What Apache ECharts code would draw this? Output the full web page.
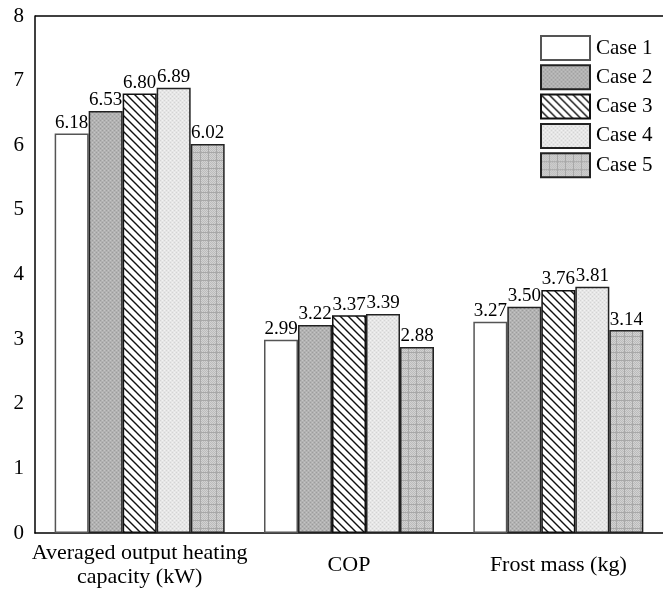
<!DOCTYPE html>
<html>
<head>
<meta charset="utf-8">
<script src="https://cdn.jsdelivr.net/npm/echarts@6/dist/echarts.min.js"></script>
<style>
html,body{margin:0;padding:0;background:#fff;}
#chart{width:663px;height:597px;}
</style>
</head>
<body>
<div id="chart"></div>
<script>
// Category names along the x axis
const categories = ['Averaged output heating\ncapacity (kW)', 'COP', 'Frost mass (kg)'];
// Case names shown in the legend
const caseNames = ['Case 1', 'Case 2', 'Case 3', 'Case 4', 'Case 5'];
// Values per case, one entry per category
const case1 = [6.18, 2.99, 3.27];
const case2 = [6.53, 3.22, 3.50];
const case3 = [6.80, 3.37, 3.76];
const case4 = [6.89, 3.39, 3.81];
const case5 = [6.02, 2.88, 3.14];
const yTicks = [0, 1, 2, 3, 4, 5, 6, 7, 8];

const FONT = '"Liberation Serif", "Times New Roman", serif';

function makeCanvas(w, h, draw) {
  const c = document.createElement('canvas');
  c.width = w; c.height = h;
  draw(c.getContext('2d'), w, h);
  return c;
}
// Fill textures for the bars
const texDarkDots = makeCanvas(4, 4, (g) => {
  g.fillStyle = '#b2b2b2'; g.fillRect(0, 0, 4, 4);
  g.fillStyle = '#9c9c9c';
  g.fillRect(0, 0, 1, 1); g.fillRect(2, 2, 1, 1);
  g.fillStyle = '#c4c4c4';
  g.fillRect(2, 0, 1, 1); g.fillRect(0, 2, 1, 1);
});
const texHatch = makeCanvas(8, 8, (g) => {
  g.fillStyle = '#ffffff'; g.fillRect(0, 0, 8, 8);
  g.strokeStyle = '#111'; g.lineWidth = 1.4;
  g.beginPath();
  g.moveTo(-1, -1); g.lineTo(9, 9);
  g.moveTo(-1, 7); g.lineTo(1, 9);
  g.moveTo(7, -1); g.lineTo(9, 1);
  g.stroke();
});
const texLight = makeCanvas(4, 4, (g) => {
  g.fillStyle = '#e6e6e6'; g.fillRect(0, 0, 4, 4);
  g.fillStyle = '#d4d4d4';
  g.fillRect(0, 0, 1, 1); g.fillRect(2, 2, 1, 1);
  g.fillStyle = '#f2f2f2';
  g.fillRect(2, 0, 1, 1); g.fillRect(0, 2, 1, 1);
});
const texGrid = makeCanvas(8, 8, (g) => {
  g.fillStyle = '#d2d2d2'; g.fillRect(0, 0, 8, 8);
  for (let y = 0; y < 8; y++) for (let x = 0; x < 8; x++) {
    if ((x + y) % 2 === 0) { g.fillStyle = '#bcbcbc'; g.fillRect(x, y, 1, 1); }
  }
  g.fillStyle = '#a8a8a8';
  g.fillRect(0, 0, 8, 1); g.fillRect(0, 0, 1, 8);
});

const fills = [
  '#ffffff',
  { image: texDarkDots, repeat: 'repeat' },
  { image: texHatch, repeat: 'repeat' },
  { image: texLight, repeat: 'repeat' },
  { image: texGrid, repeat: 'repeat' }
];
const borders = ['#555', '#222', '#111', '#222', '#222'];
const values = [case1, case2, case3, case4, case5];

const series = caseNames.map((name, i) => ({
  name: name,
  type: 'bar',
  data: values[i],
  barGap: '0%',
  barWidth: 34,
  itemStyle: { color: fills[i], borderColor: borders[i], borderWidth: 1.5 },
  label: {
    show: true, position: 'top', distance: 1,
    fontFamily: FONT, fontSize: 19, color: '#000',
    formatter: (p) => p.value.toFixed(2)
  }
}));

const chart = echarts.init(document.getElementById('chart'), null, { renderer: 'canvas' });
chart.setOption({
  animation: false,
  backgroundColor: '#fff',
  grid: { left: 35, top: 16, width: 639, height: 517, containLabel: false },
  legend: {
    data: caseNames,
    orient: 'vertical',
    left: 540, top: 35,
    itemWidth: 49, itemHeight: 24, itemGap: 3.3,
    textStyle: { fontFamily: FONT, fontSize: 21, color: '#000', padding: [0, 0, 0, 1] },
    padding: 0,
    icon: 'rect'
  },
  xAxis: {
    type: 'category',
    data: categories,
    axisLine: { lineStyle: { color: '#000', width: 1.5 } },
    axisTick: { show: false },
    axisLabel: {
      fontFamily: FONT, fontSize: 22, color: '#000',
      margin: 32, lineHeight: 24, interval: 0, verticalAlign: 'middle'
    }
  },
  yAxis: {
    type: 'value',
    min: yTicks[0], max: yTicks[yTicks.length - 1], interval: 1,
    axisLine: { show: true, lineStyle: { color: '#000', width: 1.5 } },
    axisTick: { show: false },
    splitLine: { show: false },
    axisLabel: { fontFamily: FONT, fontSize: 21, color: '#000', margin: 11 }
  },
  graphic: [{
    type: 'line', shape: { x1: 35, y1: 16, x2: 663, y2: 16 },
    style: { stroke: '#000', lineWidth: 1.5 }
  }],
  series: series
});
</script>
</body>
</html>
